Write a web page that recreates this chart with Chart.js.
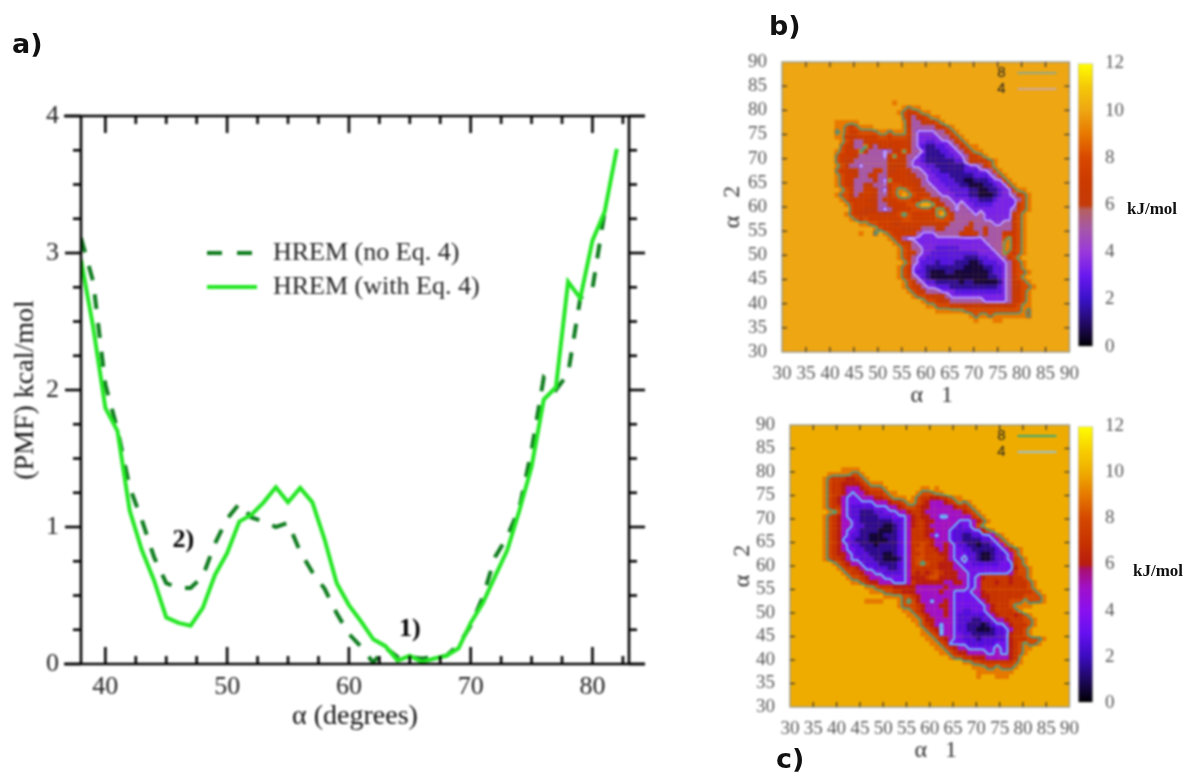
<!DOCTYPE html>
<html>
<head>
<meta charset="utf-8">
<title>PMF and free energy maps</title>
<script src="https://cdn.jsdelivr.net/npm/chart.js@4/dist/chart.umd.js"></script>
<style>
  html, body { margin: 0; background: #fff; }
  body { position: relative; width: 1187px; height: 772px; overflow: hidden; }
  canvas { position: absolute; }
  #pmf { left: 0; top: 0; filter: blur(0.8px); }
  #mapB { left: 715px; top: 30px; filter: blur(0.9px); }
  #mapC { left: 715px; top: 395px; filter: blur(0.9px); }
  #barB { left: 1072px; top: 40px; filter: blur(0.8px); }
  #barC { left: 1072px; top: 403px; filter: blur(0.8px); }
  .tag { position: absolute; transform: translateY(-50%); white-space: nowrap; color: #111; }
  .panel { font: bold 27px "DejaVu Sans"; }
  .unit { font: bold 17px "Liberation Serif"; }
</style>
</head>
<body>
<canvas id="pmf" width="700" height="772"></canvas>
<canvas id="mapB" width="375" height="380"></canvas>
<canvas id="mapC" width="375" height="377"></canvas>
<canvas id="barB" width="70" height="330"></canvas>
<canvas id="barC" width="70" height="323"></canvas>
<div class="tag panel" style="left:12px;top:43px">a)</div>
<div class="tag panel" style="left:769px;top:25px">b)</div>
<div class="tag panel" style="left:776px;top:758px">c)</div>
<div class="tag unit" style="left:1127px;top:209px">kJ/mol</div>
<div class="tag unit" style="left:1133px;top:571px">kJ/mol</div>
<script>
// panel a
const alphaDeg = [38,39,40,41,42,43,44,45,46,47,48,49,50,51,52,53,54,55,56,57,58,59,60,61,62,63,64,65,66,67,68,69,70,71,72,73,74,75,76,77,78,79,80,81,82];
const pmfWithEq4 = [2.95,2.46,1.87,1.70,1.12,0.83,0.61,0.34,0.30,0.28,0.41,0.65,0.81,1.04,1.09,1.18,1.29,1.18,1.285,1.18,0.91,0.59,0.43,0.31,0.18,0.13,0.025,0.06,0.015,0.04,0.06,0.115,0.30,0.445,0.64,0.83,1.12,1.44,1.93,2.02,2.79,2.67,3.09,3.30,3.76];
const pmfNoEq4 = [3.11,2.79,2.04,1.71,1.29,1.05,0.78,0.59,0.555,0.555,0.64,0.88,1.06,1.17,1.07,1.04,1.00,1.03,0.82,0.67,0.55,0.37,0.22,0.125,0.01,0.12,0.05,0.05,0.04,0.05,0.06,0.14,0.28,0.49,0.78,0.93,1.14,1.56,2.09,2.00,2.12,2.67,2.74,3.30];
const xMajor = [40,50,60,70,80];
const xMinor = [42.5,45,47.5,52.5,55,57.5,62.5,65,67.5,72.5,75,77.5,82.5];
const yMajor = [0,1,2,3,4];
const yMinor = [0.25,0.5,0.75,1.25,1.5,1.75,2.25,2.5,2.75,3.25,3.5,3.75];
const notes = [["1)",65,0.25],["2)",46.4,0.9]];

// panels b and c: energy code per one degree cell, top row first, "first alpha1:codes", a = 10
const mapBTop = 81;
const mapB = [
"53:9","55:9899","54:9867899","55:86567899",
"41:99999aaaaaaaaa975566789",
"41:99878999aaaaaa96555556789",
"41:89877888899899975333355689",
"41:997667777887888653333355689",
"42:987556777777776533223335689",
"42:87655965676777653211223356899",
"41:9877796555356697553111223356899",
"41:87776555553697655321111223356789",
"41:8766555555567665332111111225666789",
"41:9865535555566665333221111112335689",
"41:87766555675667765533221111122233589",
"41:987765567556777665533222111112223589",
"41:9877555565397777665333222110011123389",
"41:98765566555688777655333222110001123389",
"42:987557765368998766553332222110011233899",
"41:98865677655689a98776553332221100012335689",
"42:9877776656778887788765533332211123333589",
"43:9877776556777889aa976553533222233333689",
"44:87766653567778888799753553333333335789",
"43:98766776667898777779a86555535333333689",
"44:9878777777788777778886555555333333689",
"46:99887776677776666765555655553355689",
"49:98777766675556655557655655555689",
"46:9aa8a987777753335555567765655577789",
"52:98753333333333333333555589789",
"53:9876533333333333333355599789",
"54:987553332222233333335599789",
"54:987653322222222223333598689",
"54:98753322222222111223335689",
"55:98532221222111001222335789",
"54:987332111111110000112235789",
"54:9873221000110000000122357889",
"54:986532100000000000011235689",
"55:986532211111011000001356789",
"55:9876533222111111111123566889",
"56:98765553332222222222356789",
"57:9887666533333333333356789",
"59:98876655555553333356789",
"60:9988877666666666667899",
"62:99999988888888888898",
"69:9899899999998",
"70:9aaa99"
];
const mapCTop = 80;
const mapC = [
"41:9999","38:99999889","37:9877766789","37:9877666678999",
"37:98776555678889aaaaaaa99a9",
"37:9877653556777899aaaa988899",
"37:987653335556678999a98776677899",
"37:98765333333555677899876555678989",
"37:987753222223335567887665555567789",
"38:998532211122333556776555555556789",
"37:98765322111122233356766553355555789",
"37:987655321111111223567766555553335689",
"37:98765532211110012356776555553233589",
"37:9876533211110001235777665553222233689",
"37:987653221100011123577765355322112233589",
"37:9876332111000011235777765553221111223589",
"37:98765322111011112357787655653221101123589",
"37:9876533221111111235788776565332211111235789",
"37:9876653222111001235778777665333221001223589",
"37:98776533222110001357887777653352210012235789",
"39:987655322211112357898776665333222222333789",
"40:987765332221123577777766655333333333336889",
"41:98776553322223576767876665533333333357889",
"42:9887655533333566678866665533567777767789",
"43:9987665553335766666655665335777677677789",
"46:9987776666655555565555335777777777789",
"47:9998877666555556553333556777777777789",
"50:99998876555555533333566777777788889",
"46:9999aaa98986553556533333356777788898889",
"53:98887655566533333335677789999",
"54:99876555565332233356777789",
"55:998765556532222223567776789",
"56:998665555322211223556777889",
"57:98765355322111012335677789",
"58:987635532211000122357789",
"58:998735533221111122367789",
"59:99876533222122222367778889",
"60:998733332222223336789889",
"61:998765533333353367899",
"62:9987665555335336789",
"64:9887766655555679",
"67:9988777777789",
"69:9998898889",
"70:99999999",
"70:9aaa999"
];
// what each code means in kJ/mol
const codeLevels = [0.6,1.5,2.6,3.3,4,5,6,7,8,9,10];
const angleTicks = [30,35,40,45,50,55,60,65,70,75,80,85,90];
const barLevels = [0,1,2,3,4,5,5.8,6,7,8,9,10,11,12];
const barColorsB = ["#000000","#230a66","#3a12c8","#6a18f0","#9a38dc","#a658a8","#b46060","#c43a08","#cc3a00","#d84800","#e87800","#eea612","#f5c808","#ffff00"];
const barColorsC = ["#000000","#1e0860","#3c0cc0","#6610f0","#8a10f0","#a010c8","#a81070","#b81c10","#c83400","#d44800","#e67800","#efac00","#f8d000","#ffff00"];

const serif = "Liberation Serif";

function hexToRgb(hex) {
  return [1, 3, 5].map((i) => parseInt(hex.substr(i, 2), 16));
}

function colorFor(value, colors) {
  for (let i = 1; i < barLevels.length; i++) {
    if (value <= barLevels[i]) {
      const t = (value - barLevels[i - 1]) / (barLevels[i] - barLevels[i - 1]);
      const a = hexToRgb(colors[i - 1]);
      const b = hexToRgb(colors[i]);
      return `rgb(${a.map((v, k) => Math.round(v + (b[k] - v) * t)).join(",")})`;
    }
  }
  return colors[colors.length - 1];
}

function buildGrid(rows, top) {
  const grid = {};
  rows.forEach((row, n) => {
    const [start, values] = row.split(":");
    [...values].forEach((c, k) => {
      grid[`${Number(start) + k},${top - n}`] = parseInt(c, 16);
    });
  });
  return grid;
}

// marching squares between cell centres
function contour(grid, level) {
  const pts = [];
  const gap = { x: NaN, y: NaN };
  const val = (x, y) => grid[`${x},${y}`] ?? 10;
  for (let x = 30; x < 89; x++) {
    for (let y = 30; y < 89; y++) {
      const cuts = [];
      const cross = (p, q, x1, y1, x2, y2) => {
        if ((p < level) === (q < level)) return;
        const t = (level - p) / (q - p);
        cuts.push({ x: x1 + (x2 - x1) * t + 0.5, y: y1 + (y2 - y1) * t + 0.5 });
      };
      cross(val(x, y), val(x + 1, y), x, y, x + 1, y);
      cross(val(x + 1, y), val(x + 1, y + 1), x + 1, y, x + 1, y + 1);
      cross(val(x + 1, y + 1), val(x, y + 1), x + 1, y + 1, x, y + 1);
      cross(val(x, y + 1), val(x, y), x, y + 1, x, y);
      for (let i = 0; i < cuts.length; i += 2) pts.push(cuts[i], cuts[i + 1], gap);
    }
  }
  return pts;
}

function line(ctx, x1, y1, x2, y2) {
  ctx.beginPath();
  ctx.moveTo(x1, y1);
  ctx.lineTo(x2, y2);
  ctx.stroke();
}

const pmfDecor = {
  id: "pmfDecor",
  afterDraw(chart) {
    const { ctx, chartArea: a, scales: { x, y } } = chart;
    ctx.save();
    ctx.strokeStyle = "#000";
    ctx.lineWidth = 2.6;
    line(ctx, a.left - 17, a.top, a.right + 16, a.top);
    line(ctx, a.left - 17, a.bottom, a.right + 16, a.bottom);
    line(ctx, a.left, a.top, a.left, a.bottom);
    line(ctx, a.right, a.top, a.right, a.bottom);
    const xMark = (v, len) => {
      const px = x.getPixelForValue(v);
      line(ctx, px, a.top, px, a.top + len);
      line(ctx, px, a.bottom, px, a.bottom - len);
    };
    const yMark = (v, len) => {
      const py = y.getPixelForValue(v);
      line(ctx, a.left, py, a.left - len, py);
      line(ctx, a.right, py, a.right + len, py);
    };
    xMajor.forEach((v) => xMark(v, 17));
    xMinor.forEach((v) => xMark(v, 8));
    yMajor.forEach((v) => yMark(v, 16));
    yMinor.forEach((v) => yMark(v, 8));

    ctx.fillStyle = "#000";
    ctx.font = `bold 26px "${serif}"`;
    ctx.textAlign = "center";
    ctx.textBaseline = "middle";
    notes.forEach(([t, nx, ny]) => ctx.fillText(t, x.getPixelForValue(nx), y.getPixelForValue(ny)));

    ctx.lineWidth = 4;
    ctx.strokeStyle = "#0e7c1e";
    ctx.setLineDash([15, 15]);
    line(ctx, 207, 253, 257, 253);
    ctx.setLineDash([]);
    ctx.strokeStyle = "#22e622";
    line(ctx, 207, 287, 257, 287);
    ctx.fillStyle = "#222";
    ctx.font = `26px "${serif}"`;
    ctx.textAlign = "left";
    ctx.fillText("HREM (no Eq. 4)", 273, 253);
    ctx.fillText("HREM (with Eq. 4)", 273, 287);
    ctx.restore();
  },
};

new Chart(document.getElementById("pmf"), {
  type: "scatter",
  plugins: [pmfDecor],
  data: {
    datasets: [
      {
        data: alphaDeg.map((x, i) => ({ x, y: pmfWithEq4[i] })),
        showLine: true, pointRadius: 0, borderColor: "#22e622", borderWidth: 4,
      },
      {
        data: pmfNoEq4.map((y, i) => ({ x: alphaDeg[i], y })),
        showLine: true, pointRadius: 0, borderColor: "#0e7c1e", borderWidth: 4, borderDash: [15, 14],
      },
    ],
  },
  options: {
    responsive: false,
    animation: false,
    layout: { padding: { top: 116, right: 71 } },
    plugins: { legend: { display: false }, tooltip: { enabled: false } },
    scales: {
      x: {
        min: 38, max: 83,
        grid: { display: false, drawTicks: false }, border: { display: false },
        afterBuildTicks: (s) => { s.ticks = xMajor.map((value) => ({ value })); },
        afterFit: (s) => { s.height = 108; },
        ticks: { color: "#222", padding: 8, maxRotation: 0, font: { family: serif, size: 26 } },
        title: { display: true, text: "α (degrees)", color: "#111", padding: { bottom: 39 }, font: { family: serif, size: 28 } },
      },
      y: {
        min: 0, max: 4,
        grid: { display: false, drawTicks: false }, border: { display: false },
        afterBuildTicks: (s) => { s.ticks = yMajor.map((value) => ({ value })); },
        afterFit: (s) => { s.width = 81; },
        ticks: { color: "#222", padding: 22, font: { family: serif, size: 26 } },
        title: { display: true, text: "(PMF) kcal/mol", color: "#111", padding: { top: 9 }, font: { family: serif, size: 28 } },
      },
    },
  },
});

const mapDecor = {
  id: "mapDecor",
  beforeDatasetsDraw(chart, args, opts) {
    const { ctx, chartArea: a } = chart;
    ctx.save();
    ctx.fillStyle = opts.fill;
    ctx.fillRect(a.left, a.top, a.width, a.height);
    ctx.restore();
  },
  afterDraw(chart, args, opts) {
    const { ctx, chartArea: a, scales: { x, y } } = chart;
    ctx.save();
    ctx.strokeStyle = "#9a9a90";
    ctx.lineWidth = 1.4;
    ctx.strokeRect(a.left, a.top, a.width, a.height);
    ctx.strokeStyle = "#333";
    ctx.lineWidth = 1.2;
    angleTicks.slice(1, -1).forEach((v) => {
      const px = x.getPixelForValue(v);
      const py = y.getPixelForValue(v);
      line(ctx, px, a.top, px, a.top + 5);
      line(ctx, px, a.bottom, px, a.bottom - 5);
      line(ctx, a.left, py, a.left + 5, py);
      line(ctx, a.right, py, a.right - 5, py);
    });
    ctx.fillStyle = "#222";
    ctx.font = '15px "Liberation Sans"';
    ctx.textAlign = "center";
    ctx.textBaseline = "middle";
    ctx.fillText("8", a.right - 68, a.top + 11);
    ctx.fillText("4", a.right - 68, a.top + 27);
    ctx.lineWidth = 2;
    ctx.strokeStyle = opts.keyHigh;
    line(ctx, a.right - 52, a.top + 11, a.right - 13, a.top + 11);
    ctx.strokeStyle = opts.keyLow;
    line(ctx, a.right - 52, a.top + 27, a.right - 13, a.top + 27);
    ctx.restore();
  },
};

function drawMap(id, rows, top, colors, high, low, keyHigh, keyLow, box) {
  const grid = buildGrid(rows, top);
  const cells = [];
  const cellColors = [];
  Object.keys(grid).forEach((key) => {
    if (grid[key] === 10) return;
    const [x, y] = key.split(",").map(Number);
    cells.push({ x: x + 0.5, y: y + 0.5 });
    cellColors.push(colorFor(codeLevels[grid[key]], colors));
  });
  const tickFont = { family: serif, size: 19 };
  new Chart(document.getElementById(id), {
    type: "scatter",
    plugins: [mapDecor],
    data: {
      datasets: [
        { data: contour(grid, 8.5), showLine: true, pointRadius: 0, borderColor: high, borderWidth: 1.7, borderCapStyle: "round" },
        { data: contour(grid, 3.5), showLine: true, pointRadius: 0, borderColor: low, borderWidth: 1.8, borderCapStyle: "round" },
        { data: cells, pointStyle: "rect", pointRadius: box.cell, pointBorderWidth: 0, pointBackgroundColor: cellColors },
      ],
    },
    options: {
      responsive: false,
      animation: false,
      layout: { padding: { top: box.top, right: 18 } },
      plugins: {
        legend: { display: false },
        tooltip: { enabled: false },
        mapDecor: { fill: colorFor(10, colors), keyHigh, keyLow },
      },
      scales: {
        x: {
          min: 30, max: 90,
          grid: { display: false, drawTicks: false }, border: { display: false },
          afterBuildTicks: (s) => { s.ticks = angleTicks.map((value) => ({ value })); },
          afterFit: (s) => { s.height = box.xHeight; },
          ticks: { color: "#555", padding: 11, maxRotation: 0, autoSkip: false, font: tickFont },
          title: { display: true, text: "  α   1", color: "#333", padding: { bottom: box.xTitle }, font: { family: serif, size: 24 } },
        },
        y: {
          min: 30, max: 90,
          grid: { display: false, drawTicks: false }, border: { display: false },
          afterBuildTicks: (s) => { s.ticks = angleTicks.map((value) => ({ value })); },
          afterFit: (s) => { s.width = box.yWidth; },
          ticks: { color: "#555", padding: 15, autoSkip: false, font: tickFont },
          title: { display: true, text: "α   2", color: "#333", padding: { top: box.yTitle }, font: { family: serif, size: 24 } },
        },
      },
    },
  });
}

function drawBar(id, colors, padTop, padBottom) {
  new Chart(document.getElementById(id), {
    type: "bar",
    data: {
      labels: [""],
      datasets: [{
        data: [[0, 12]],
        barPercentage: 1,
        categoryPercentage: 1,
        borderWidth: 1,
        borderColor: "#b5b5b0",
        borderSkipped: false,
        backgroundColor(c) {
          const { ctx, chartArea, scales: { y } } = c.chart;
          if (!chartArea) return colors[0];
          const g = ctx.createLinearGradient(0, y.getPixelForValue(0), 0, y.getPixelForValue(12));
          barLevels.forEach((v, i) => g.addColorStop(v / 12, colors[i]));
          return g;
        },
      }],
    },
    options: {
      responsive: false,
      animation: false,
      layout: { padding: { left: 6, top: padTop, bottom: padBottom } },
      plugins: { legend: { display: false }, tooltip: { enabled: false } },
      scales: {
        x: { display: false },
        y: {
          position: "right",
          min: 0, max: 12,
          grid: { display: false, drawTicks: false }, border: { display: false },
          afterFit: (s) => { s.width = 49; },
          ticks: { stepSize: 2, color: "#555", padding: 12, font: { family: serif, size: 19 } },
        },
      },
    },
  });
}

drawMap("mapB", mapB, mapBTop, barColorsB, "#4a9e82", "#c0a8ff", "#93a88a", "#c8a8a8",
  { top: 32, xHeight: 58, yWidth: 67, cell: 3.55, xTitle: 0, yTitle: 3 });
drawMap("mapC", mapC, mapCTop, barColorsC, "#3f9e8a", "#70c8f8", "#3aa878", "#9ac0d8",
  { top: 30, xHeight: 65, yWidth: 75, cell: 3.45, xTitle: 7, yTitle: 13 });
drawBar("barB", barColorsB, 22, 18);
drawBar("barC", barColorsC, 22, 16);
</script>
</body>
</html>
